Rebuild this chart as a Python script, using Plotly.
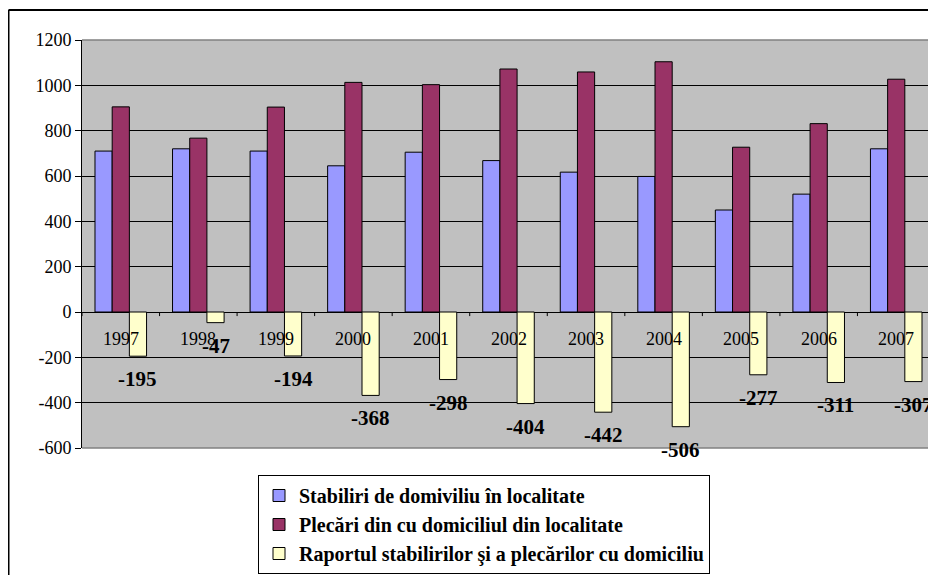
import plotly.graph_objects as go

years = ["1997", "1998", "1999", "2000", "2001", "2002", "2003", "2004", "2005", "2006", "2007"]
stabiliri = [710, 720, 710, 645, 705, 668, 617, 598, 450, 520, 720]
plecari = [905, 767, 904, 1013, 1003, 1072, 1059, 1104, 727, 831, 1027]
raport = [-195, -47, -194, -368, -298, -404, -442, -506, -277, -311, -307]

names = ["Stabiliri de domiviliu în localitate",
         "Plecări din cu domiciliul din localitate",
         "Raportul stabilirilor şi a plecărilor cu domiciliu"]
colors = ["#9999FF", "#993366", "#FFFFCC"]

ytick_vals = [-600, -400, -200, 0, 200, 400, 600, 800, 1000, 1200]
ytick_text = ["-600", "-400", "-200", "0", "200", "400", "600", "800", "1000", "1200"]

SERIF = "Liberation Serif"
BARGAP = 0.335

# page body has an 8px margin; the figure is sized/offset to compensate
W, H = 928, 567
ML, MT, MR = 74, 32, 1
PW = W - ML - MR
PH = 408
MB = H - MT - PH

fig = go.Figure()
for i, (vals, name, col) in enumerate(zip([stabiliri, plecari, raport], names, colors)):
    fig.add_trace(go.Bar(
        x=years, y=vals, name=name, legendgroup="g%d" % i,
        marker=dict(color=col, line=dict(color="black", width=1)),
    ))

ann = []
n = len(years)
bw = (1 - BARGAP) / 3
for i, (yr, v) in enumerate(zip(years, raport)):
    ann.append(dict(x=i, y=0, xref="x", yref="y", text=yr, showarrow=False,
                    yshift=-27, font=dict(family=SERIF, size=18, color="black")))
    ann.append(dict(x=i + bw, y=v, xref="x", yref="y", text="<b>%d</b>" % v, showarrow=False,
                    yshift=-23, font=dict(family=SERIF, size=21, color="black")))

for i in range(n + 1):
    fig.add_shape(type="line", xref="x", yref="y", x0=i - 0.5, x1=i - 0.5,
                  y0=0, y1=-18, line=dict(color="black", width=1))
# plot area top/bottom border in gray
for yy in (0, 1):
    fig.add_shape(type="line", xref="paper", yref="paper", x0=0, x1=1, y0=yy, y1=yy,
                  line=dict(color="#808080", width=1.5))
# outer chart frame (top and left edges visible)
fx = -ML / PW + 0.5 / PW
fy = (PH + MT - 2) / PH
fig.add_shape(type="line", xref="paper", yref="paper", x0=fx, x1=1.05, y0=fy, y1=fy,
              line=dict(color="black", width=2))
fig.add_shape(type="line", xref="paper", yref="paper", x0=fx, x1=fx, y0=fy, y1=-0.4,
              line=dict(color="black", width=2))

fig.update_layout(
    width=W, height=H,
    margin=dict(l=ML, r=MR, t=MT, b=MB, autoexpand=False),
    paper_bgcolor="white", plot_bgcolor="#C0C0C0",
    barmode="group", bargap=BARGAP, bargroupgap=0,
    annotations=ann,
    showlegend=True,
    legend=dict(x=(250 - ML) / PW, y=-(467 - MT - PH) / PH, xanchor="left", yanchor="top",
                bgcolor="white", bordercolor="black", borderwidth=1,
                font=dict(family=SERIF, size=20, color="black", weight="bold"),
                tracegroupgap=0, traceorder="normal", itemwidth=30),
    xaxis=dict(range=[-0.5, n - 0.5], showticklabels=False, ticks="", showgrid=False,
               showline=False, zeroline=False, fixedrange=True),
    yaxis=dict(range=[-600, 1200], tickvals=ytick_vals, ticktext=ytick_text,
               ticks="outside", ticklen=6, tickcolor="black", showline=True,
               linecolor="black", linewidth=1, showgrid=True, gridcolor="black",
               gridwidth=1, zeroline=True, zerolinecolor="black", zerolinewidth=1,
               tickfont=dict(family=SERIF, size=18, color="black")),
)

fig.write_html("out.html")
